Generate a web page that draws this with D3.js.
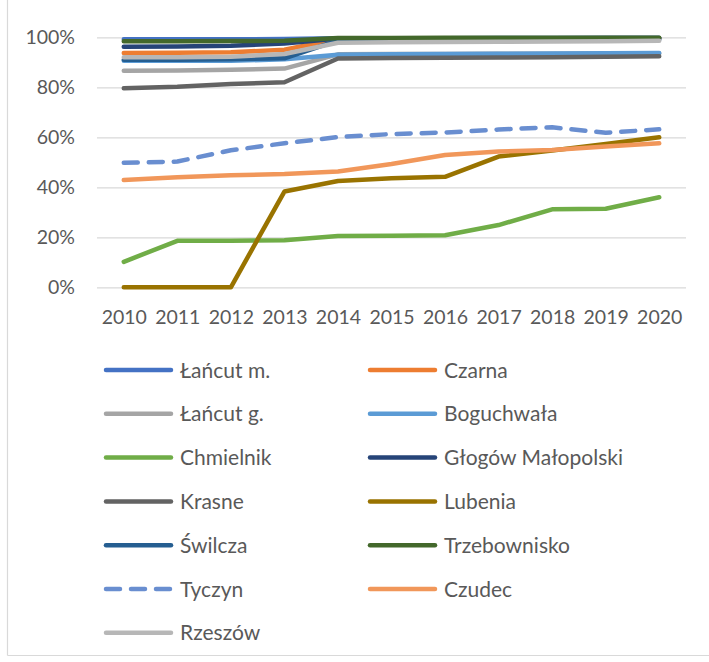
<!DOCTYPE html>
<html>
<head>
<meta charset="utf-8">
<script src="https://cdn.jsdelivr.net/npm/d3@7"></script>
<style>
  html, body { margin: 0; padding: 0; background: #fff; }
  svg { display: block; }
  text { font-family: Lato, "Open Sans", sans-serif; fill: #595959; }
</style>
</head>
<body>
<svg id="chart" width="709" height="662"></svg>
<script>
// Years on the horizontal axis
const years = ["2010", "2011", "2012", "2013", "2014", "2015", "2016", "2017", "2018", "2019", "2020"];

// Percentage ticks on the vertical axis
const yTicks = [0, 0.2, 0.4, 0.6, 0.8, 1.0];

// Share per municipality, in percent
const lancutM      = [99.2, 99.2, 99.2, 99.3, 99.6, 99.6, 99.6, 99.7, 99.7, 99.7, 99.7];
const czarna       = [93.7, 93.8, 94.0, 95.0, 99.3, 99.4, 99.4, 99.5, 99.5, 99.5, 99.6];
const lancutG      = [86.6, 86.7, 87.0, 87.5, 93.2, 93.3, 93.3, 93.4, 93.4, 93.5, 93.5];
const boguchwala   = [90.6, 90.6, 90.6, 91.2, 93.0, 93.2, 93.3, 93.4, 93.5, 93.6, 93.7];
const chmielnik    = [10.2, 18.6, 18.6, 18.8, 20.5, 20.6, 20.8, 24.9, 31.2, 31.4, 36.0];
const glogow       = [96.2, 96.3, 96.6, 97.5, 99.5, 99.5, 99.6, 99.6, 99.6, 99.7, 99.7];
const krasne       = [79.6, 80.2, 81.3, 82.0, 91.5, 91.7, 91.8, 91.9, 92.0, 92.2, 92.4];
const lubenia      = [0.0, 0.0, 0.0, 38.3, 42.5, 43.6, 44.2, 52.3, 54.7, 57.3, 60.0];
const swilcza      = [91.0, 91.0, 91.2, 91.6, 98.8, 98.9, 98.9, 99.0, 99.0, 99.1, 99.1];
const trzebownisko = [98.4, 98.4, 98.5, 98.6, 99.7, 99.7, 99.8, 99.8, 99.8, 99.8, 99.8];
const tyczyn       = [49.8, 50.3, 54.8, 57.6, 60.1, 61.3, 61.9, 63.1, 64.0, 61.8, 63.2];
const czudec       = [42.9, 44.0, 44.8, 45.3, 46.3, 49.3, 52.9, 54.3, 54.9, 56.3, 57.6];
const rzeszow      = [92.0, 92.0, 92.2, 93.3, 97.8, 98.0, 98.1, 98.2, 98.3, 98.4, 98.6];

const series = [
  { name: "Łańcut m.",         values: lancutM,      color: "#4472C4" },
  { name: "Czarna",            values: czarna,       color: "#ED7D31" },
  { name: "Łańcut g.",         values: lancutG,      color: "#A5A5A5" },
  { name: "Boguchwała",        values: boguchwala,   color: "#5B9BD5" },
  { name: "Chmielnik",         values: chmielnik,    color: "#70AD47" },
  { name: "Głogów Małopolski", values: glogow,       color: "#264478" },
  { name: "Krasne",            values: krasne,       color: "#636363" },
  { name: "Lubenia",           values: lubenia,      color: "#997300" },
  { name: "Świlcza",           values: swilcza,      color: "#255E91" },
  { name: "Trzebownisko",      values: trzebownisko, color: "#43682B" },
  { name: "Tyczyn",            values: tyczyn,       color: "#698ED0", dash: "14,11" },
  { name: "Czudec",            values: czudec,       color: "#F1975A" },
  { name: "Rzeszów",           values: rzeszow,      color: "#B7B7B7" }
];

const svg = d3.select("#chart");

// Frame edges
svg.append("line").attr("x1", 7.5).attr("x2", 7.5).attr("y1", 0).attr("y2", 655.5)
  .attr("stroke", "#D9D9D9").attr("stroke-width", 1.2);
svg.append("line").attr("x1", 7.5).attr("x2", 709).attr("y1", 655.5).attr("y2", 655.5)
  .attr("stroke", "#D9D9D9").attr("stroke-width", 1.2);

const plot = { left: 97, right: 686, top: 37.3, bottom: 287.3 };

const x = d3.scalePoint().domain(years).range([plot.left, plot.right]).padding(0.5);
const y = d3.scaleLinear().domain([0, 1]).range([plot.bottom, plot.top]);

// Gridlines and percentage labels
const yAxis = svg.append("g")
  .attr("transform", `translate(${plot.left},0)`)
  .call(d3.axisLeft(y).tickValues(yTicks).tickFormat(d3.format(".0%"))
    .tickSize(-(plot.right - plot.left)).tickPadding(22));
yAxis.select(".domain").remove();
yAxis.selectAll(".tick line").attr("stroke", "#D9D9D9").attr("stroke-width", 1.3);
yAxis.selectAll(".tick text")
  .style("font-size", "19.5px").style("font-family", "Lato, sans-serif").attr("fill", "#595959");

// Year labels
const xAxis = svg.append("g")
  .attr("transform", `translate(0,${plot.bottom})`)
  .call(d3.axisBottom(x).tickSize(0).tickPadding(23));
xAxis.select(".domain").remove();
xAxis.selectAll(".tick text")
  .style("font-size", "19.5px").style("font-family", "Lato, sans-serif").attr("fill", "#595959");

// Series lines
const line = d3.line()
  .x((d, i) => x(years[i]))
  .y(d => y(d / 100));

svg.append("g").selectAll("path")
  .data(series)
  .join("path")
  .attr("d", d => line(d.values))
  .attr("fill", "none")
  .attr("stroke", d => d.color)
  .attr("stroke-width", 4.5)
  .attr("stroke-linecap", "round")
  .attr("stroke-linejoin", "round")
  .attr("stroke-dasharray", d => d.dash || null);

// Legend, two columns
const legendCols = [106, 370];
const legendTop = 370;
const legendStep = 43.8;

const legend = svg.append("g").selectAll("g")
  .data(series)
  .join("g")
  .attr("transform", (d, i) => `translate(${legendCols[i % 2]},${legendTop + Math.floor(i / 2) * legendStep})`);

legend.append("line")
  .attr("x1", 0).attr("x2", 65)
  .attr("stroke", d => d.color)
  .attr("stroke-width", 4.5)
  .attr("stroke-linecap", "round")
  .attr("stroke-dasharray", d => d.dash || null);

legend.append("text")
  .attr("x", 74)
  .attr("dy", "0.36em")
  .style("font-size", "21px")
  .text(d => d.name);
</script>
</body>
</html>
